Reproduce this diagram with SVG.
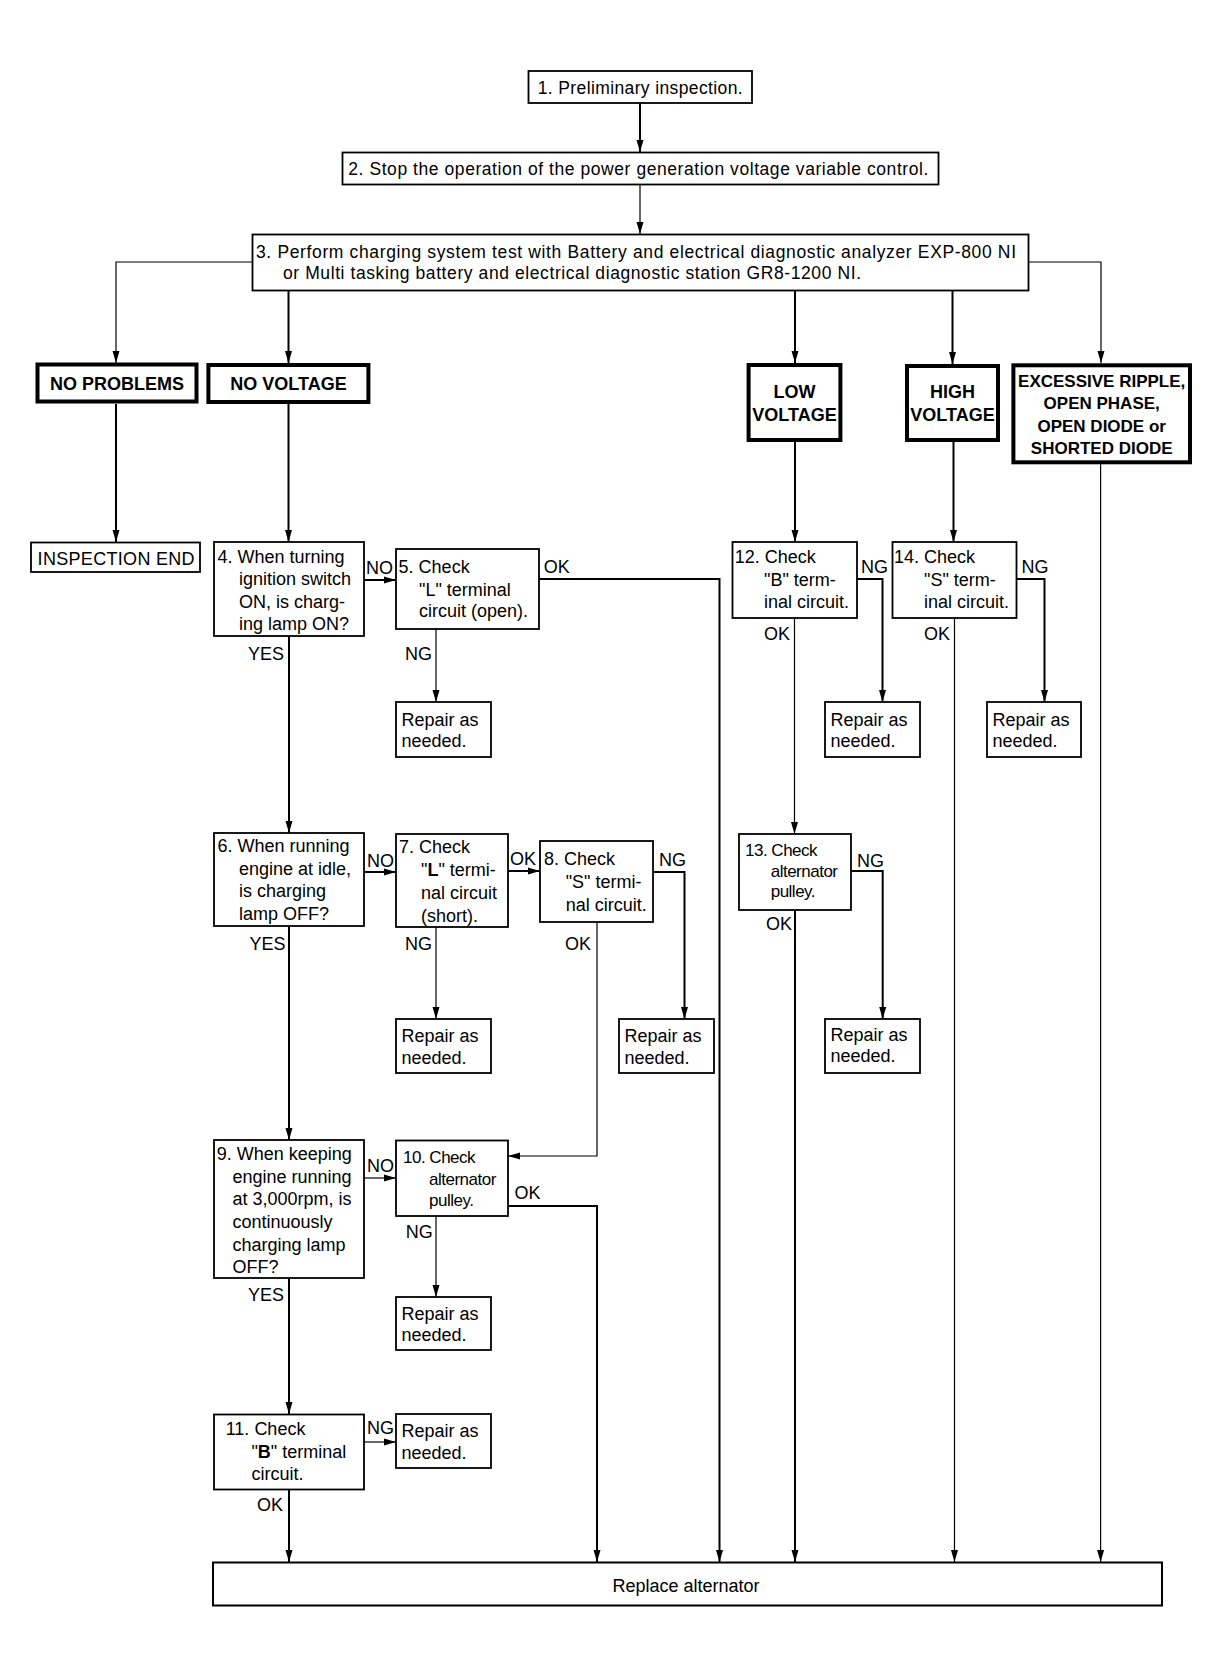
<svg xmlns="http://www.w3.org/2000/svg" width="1216" height="1660" viewBox="0 0 1216 1660">
<style>
.box{fill:#fff;stroke:#000;stroke-width:1.8}
.hbox{fill:#fff;stroke:#000;stroke-width:4}
text{font-family:"Liberation Sans",Arial,Helvetica,sans-serif;font-size:18px;fill:#000}
.s{font-size:17.5px}
.b{font-weight:bold}
.m{text-anchor:middle}
.n{font-size:17px;letter-spacing:-0.5px}
.c{stroke:#000;stroke-width:2;fill:none}
.th{stroke-width:1.2}
</style>
<defs>
<marker id="ah" markerUnits="userSpaceOnUse" markerWidth="12" markerHeight="8" refX="12" refY="4" orient="auto">
<path d="M0,0.5 L12,4 L0,7.5 z" fill="#000"/>
</marker>
</defs>
<rect width="1216" height="1660" fill="#fff"/>

<g id="connectors">
<path class="c" d="M640,103 V152" marker-end="url(#ah)"/>
<path class="c th" d="M640,185 V234" marker-end="url(#ah)"/>
<path class="c th" d="M252,262 H116 V363" marker-end="url(#ah)"/>
<path class="c" d="M288.5,291 V363" marker-end="url(#ah)"/>
<path class="c" d="M795,291 V363" marker-end="url(#ah)"/>
<path class="c" d="M952.5,291 V364" marker-end="url(#ah)"/>
<path class="c th" d="M1029,262 H1101 V363" marker-end="url(#ah)"/>
<path class="c" d="M116,404 V542" marker-end="url(#ah)"/>
<path class="c" d="M288.5,404 V542" marker-end="url(#ah)"/>
<path class="c" d="M364,580 H396" marker-end="url(#ah)"/>
<path class="c" d="M539,579 H719.5 V1562" marker-end="url(#ah)"/>
<path class="c th" d="M436,629 V702" marker-end="url(#ah)"/>
<path class="c" d="M289,636 V833" marker-end="url(#ah)"/>
<path class="c" d="M364,872 H396" marker-end="url(#ah)"/>
<path class="c" d="M508,871 H540" marker-end="url(#ah)"/>
<path class="c th" d="M436,927 V1019" marker-end="url(#ah)"/>
<path class="c" d="M653,872 H684.5 V1019" marker-end="url(#ah)"/>
<path class="c th" d="M597,922 V1156 H508" marker-end="url(#ah)"/>
<path class="c" d="M289,926 V1140" marker-end="url(#ah)"/>
<path class="c th" d="M364,1178 H396" marker-end="url(#ah)"/>
<path class="c" d="M508,1206 H597 V1562" marker-end="url(#ah)"/>
<path class="c th" d="M436,1216 V1297" marker-end="url(#ah)"/>
<path class="c" d="M289,1278 V1414" marker-end="url(#ah)"/>
<path class="c th" d="M364,1442 H396" marker-end="url(#ah)"/>
<path class="c" d="M289,1490 V1562" marker-end="url(#ah)"/>
<path class="c" d="M795,442 V542" marker-end="url(#ah)"/>
<path class="c" d="M953.5,442 V542" marker-end="url(#ah)"/>
<path class="c" d="M857,579 H882.5 V702" marker-end="url(#ah)"/>
<path class="c" d="M1016,579 H1044.5 V702" marker-end="url(#ah)"/>
<path class="c th" d="M794.5,618 V834" marker-end="url(#ah)"/>
<path class="c" d="M851,871 H882.7 V1019" marker-end="url(#ah)"/>
<path class="c" d="M795,910 V1562" marker-end="url(#ah)"/>
<path class="c th" d="M954.5,618 V1562" marker-end="url(#ah)"/>
<path class="c th" d="M1100.6,464 V1562" marker-end="url(#ah)"/>
</g>

<g id="labels">
<text x="366" y="574">NO</text>
<text x="543.7" y="573">OK</text>
<text x="405" y="660">NG</text>
<text x="248" y="660">YES</text>
<text x="367" y="867">NO</text>
<text x="510" y="865">OK</text>
<text x="659" y="866">NG</text>
<text x="405" y="950">NG</text>
<text x="565" y="950">OK</text>
<text x="249.6" y="950">YES</text>
<text x="367" y="1172">NO</text>
<text x="514.6" y="1199">OK</text>
<text x="405.7" y="1238">NG</text>
<text x="248" y="1301">YES</text>
<text x="367" y="1434">NG</text>
<text x="257" y="1511">OK</text>
<text x="861" y="573">NG</text>
<text x="1021.6" y="573">NG</text>
<text x="764" y="640">OK</text>
<text x="924" y="640">OK</text>
<text x="857" y="867">NG</text>
<text x="766" y="930">OK</text>
</g>

<g id="n1"><rect class="box" x="528.5" y="71" width="223.5" height="32"/><text class="s" x="537.7" y="94" textLength="205" lengthAdjust="spacing">1. Preliminary inspection.</text></g>
<g id="n2"><rect class="box" x="342.5" y="152.5" width="596" height="32"/><text class="s" x="348.3" y="174.5" textLength="580" lengthAdjust="spacing">2. Stop the operation of the power generation voltage variable control.</text></g>
<g id="n3"><rect class="box" x="252.5" y="234.5" width="776" height="56"/><text class="s" x="256" y="258" textLength="760" lengthAdjust="spacing">3. Perform charging system test with Battery and electrical diagnostic analyzer EXP-800 NI</text><text class="s" x="283" y="278.5" textLength="578" lengthAdjust="spacing">or Multi tasking battery and electrical diagnostic station GR8-1200 NI.</text></g>

<g id="noproblems"><rect class="hbox" x="37.5" y="364.5" width="159" height="37"/><text class="b m" x="117" y="390">NO PROBLEMS</text></g>
<g id="novoltage"><rect class="hbox" x="208.4" y="365" width="160" height="37"/><text class="b m" x="288.5" y="390">NO VOLTAGE</text></g>
<g id="lowvoltage"><rect class="hbox" x="748.6" y="365" width="91.8" height="75"/><text class="b m" x="794.5" y="398">LOW</text><text class="b m" x="794.5" y="421">VOLTAGE</text></g>
<g id="highvoltage"><rect class="hbox" x="907" y="366" width="91" height="74"/><text class="b m" x="952.5" y="398">HIGH</text><text class="b m" x="952.5" y="421">VOLTAGE</text></g>
<g id="excessive"><rect class="hbox" x="1013.4" y="365.3" width="176.6" height="97"/><text class="b m" x="1101.7" y="387" style="font-size:17px">EXCESSIVE RIPPLE,</text><text class="b m" x="1101.7" y="408.5" style="font-size:17px">OPEN PHASE,</text><text class="b m" x="1101.7" y="431.5" style="font-size:17px">OPEN DIODE or</text><text class="b m" x="1101.7" y="454.3" style="font-size:17px">SHORTED DIODE</text></g>

<g id="inspend"><rect class="box" x="31" y="542.5" width="169" height="29.5"/><text x="37.6" y="565" textLength="157" lengthAdjust="spacing">INSPECTION END</text></g>

<g id="n4"><rect class="box" x="214" y="542" width="150" height="94"/><text x="217.5" y="562.5">4. When turning</text><text x="239" y="585">ignition switch</text><text x="239" y="607.5">ON, is charg-</text><text x="239" y="630">ing lamp ON?</text></g>
<g id="n5"><rect class="box" x="396" y="549" width="143" height="80"/><text x="398.6" y="573">5. Check</text><text x="419" y="595.7">"L" terminal</text><text x="419" y="617">circuit (open).</text></g>
<g id="r5"><rect class="box" x="396" y="702" width="95" height="55"/><text x="401.5" y="725.5">Repair as</text><text x="401.5" y="747">needed.</text></g>

<g id="n6"><rect class="box" x="214" y="833" width="150" height="93"/><text x="217.5" y="852">6. When running</text><text x="239" y="874.5">engine at idle,</text><text x="239" y="897">is charging</text><text x="239" y="919.5">lamp OFF?</text></g>
<g id="n7"><rect class="box" x="396" y="834" width="112" height="93"/><text x="399" y="853">7. Check</text><text x="421" y="876">"<tspan class="b">L</tspan>" termi-</text><text x="421" y="898.7">nal circuit</text><text x="421" y="921.7">(short).</text></g>
<g id="r7"><rect class="box" x="396" y="1019" width="95" height="54"/><text x="401.5" y="1042">Repair as</text><text x="401.5" y="1064">needed.</text></g>
<g id="n8"><rect class="box" x="540" y="841" width="113" height="81"/><text x="544" y="865">8. Check</text><text x="565.7" y="888">"S" termi-</text><text x="565.7" y="910.7">nal circuit.</text></g>
<g id="r8"><rect class="box" x="619" y="1019" width="95" height="54"/><text x="624.5" y="1042">Repair as</text><text x="624.5" y="1064">needed.</text></g>

<g id="n9"><rect class="box" x="214" y="1140" width="150" height="138"/><text x="216.8" y="1160.3">9. When keeping</text><text x="232.5" y="1183">engine running</text><text x="232.5" y="1205.4">at 3,000rpm, is</text><text x="232.5" y="1228">continuously</text><text x="232.5" y="1250.5">charging lamp</text><text x="232.5" y="1273">OFF?</text></g>
<g id="n10"><rect class="box" x="396" y="1140.5" width="112" height="75.5"/><text class="n" x="403" y="1163">10. Check</text><text class="n" x="429" y="1185.4">alternator</text><text class="n" x="429" y="1206">pulley.</text></g>
<g id="r10"><rect class="box" x="396" y="1297" width="95" height="53"/><text x="401.5" y="1319.5">Repair as</text><text x="401.5" y="1341">needed.</text></g>

<g id="n11"><rect class="box" x="214" y="1414.5" width="150" height="75"/><text x="225.7" y="1435">11. Check</text><text x="251.4" y="1458">"<tspan class="b">B</tspan>" terminal</text><text x="251.4" y="1480">circuit.</text></g>
<g id="r11"><rect class="box" x="396" y="1414" width="95" height="54"/><text x="401.5" y="1436.5">Repair as</text><text x="401.5" y="1458.5">needed.</text></g>

<g id="n12"><rect class="box" x="732.5" y="542" width="124.5" height="76"/><text x="734.8" y="562.7">12. Check</text><text x="764" y="585.7">"B" term-</text><text x="764" y="608">inal circuit.</text></g>
<g id="r12"><rect class="box" x="825" y="702" width="95" height="55"/><text x="830.5" y="725.5">Repair as</text><text x="830.5" y="747">needed.</text></g>
<g id="n13"><rect class="box" x="739" y="834" width="112" height="76"/><text class="n" x="745" y="855.7">13. Check</text><text class="n" x="770.7" y="876.7">alternator</text><text class="n" x="770.7" y="896.7">pulley.</text></g>
<g id="r13"><rect class="box" x="825" y="1019" width="95" height="54"/><text x="830.5" y="1041">Repair as</text><text x="830.5" y="1061.5">needed.</text></g>
<g id="n14"><rect class="box" x="892.5" y="542" width="124" height="76"/><text x="894" y="562.7">14. Check</text><text x="924" y="585.7">"S" term-</text><text x="924" y="608">inal circuit.</text></g>
<g id="r14"><rect class="box" x="987" y="702" width="94" height="55"/><text x="992.5" y="725.5">Repair as</text><text x="992.5" y="747">needed.</text></g>

<g id="replace"><rect class="box" x="213" y="1562.5" width="949" height="43" style="stroke-width:2"/><text x="612.4" y="1592">Replace alternator</text></g>
</svg>
